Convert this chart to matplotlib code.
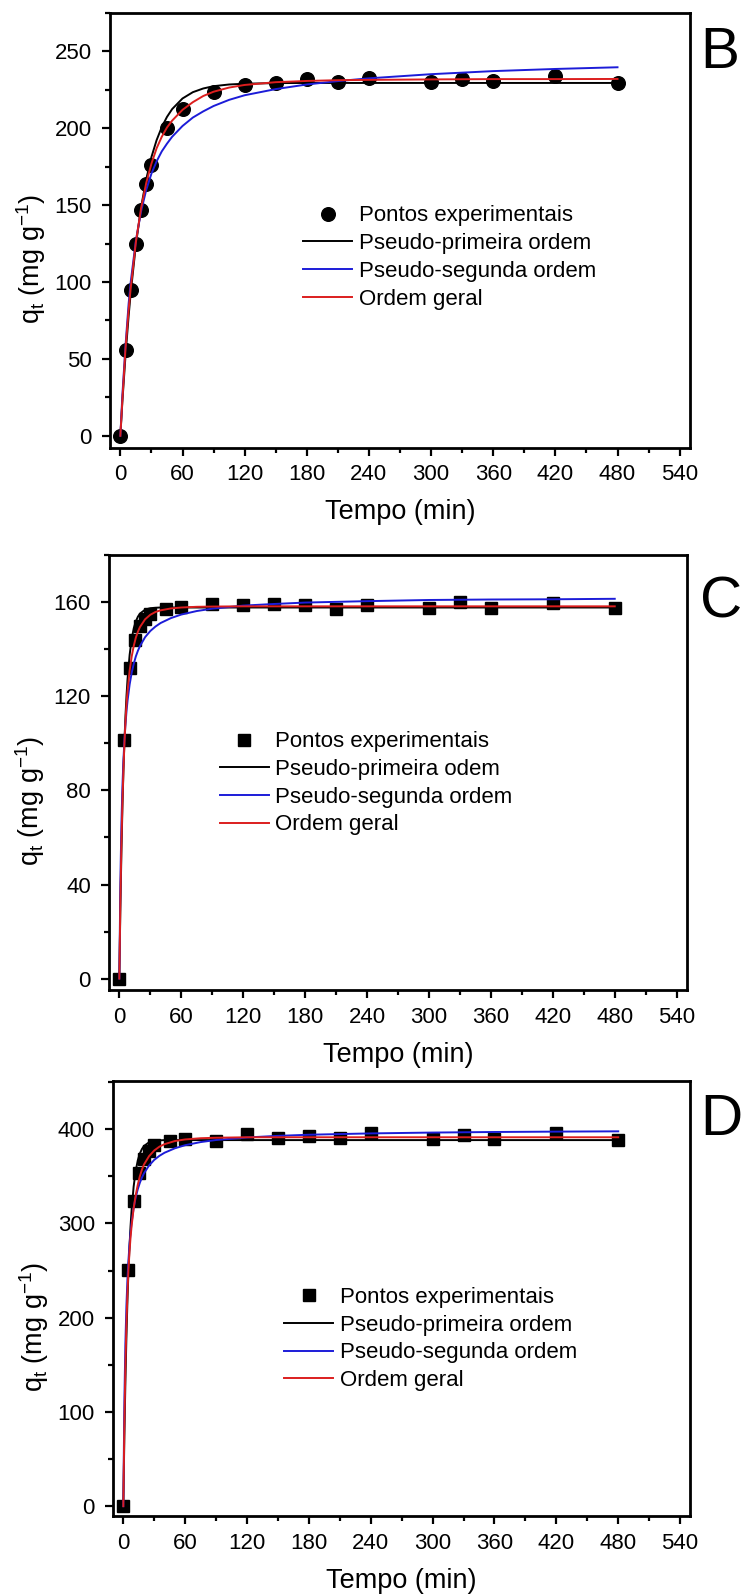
import matplotlib
matplotlib.use("Agg")
import matplotlib.pyplot as plt
from matplotlib.ticker import MultipleLocator

plt.rcParams["font.family"] = ["Liberation Sans", "DejaVu Sans"]
plt.rcParams["mathtext.default"] = "regular"

# ---------------- experimental points (time in min, q_t in mg/g) ----------------
t_exp = [0, 5, 10, 15, 20, 25, 30, 45, 60, 90, 120, 150, 180, 210, 240, 300, 330, 360, 420, 480]

qB_exp = [0, 56, 95, 125, 147, 163.5, 176, 200, 212.5, 223.5, 228, 229.2, 232.3, 229.8,
          232.9, 230.3, 232, 231, 234.2, 229.2]
qC_exp = [0, 101.5, 132, 144, 150, 153, 155, 157, 158, 159.3, 159, 159.3, 158.7, 157.1,
          159, 157.8, 160, 157.6, 159.6, 157.4]
qD_exp = [0, 250.5, 324, 353.4, 368.5, 377.4, 383, 388, 389.4, 388, 394.7, 390.5, 393,
          391, 396, 390, 393.5, 390, 396, 388.2]

# ---------------- fitted kinetic curves ----------------
tB_fit = [0, 2, 5, 8, 10, 15, 20, 25, 30, 35, 40, 45, 50, 60, 70, 80, 90, 105, 120,
          150, 180, 210, 240, 300, 360, 420, 480]
qB_pfo = [0, 22.8, 52.5, 78.1, 93, 124.3, 148.6, 166.9, 181.3, 192.3, 200.8, 207.4, 212.5,
          219.4, 223.5, 225.9, 227.4, 228.5, 229.0, 229.4, 229.5, 229.5, 229.5, 229.5,
          229.5, 229.5, 229.5]
qB_pso = [0, 27, 59, 86, 100, 127, 146, 160, 170.5, 178.5, 185, 190, 194.5, 201.5, 207,
          211, 214.5, 218.5, 221.5, 225.5, 228.5, 230.7, 232.5, 235.2, 237.2, 238.6, 239.7]
qB_go = [0, 24, 57, 82, 96, 126, 148, 164.5, 177, 187, 194.5, 200.5, 205, 212, 217, 221,
         223.8, 226.5, 228.2, 230, 230.8, 231.3, 231.5, 231.8, 232, 232, 232.1]

tCD_fit = [0, 1, 2, 3, 4, 5, 6, 7, 8, 10, 12, 14, 16, 18, 20, 25, 30, 35, 40, 50, 60, 75,
           90, 120, 150, 180, 240, 300, 360, 420, 480]
qC_pfo = [0, 29.4, 53.3, 72.7, 88.6, 101.5, 112, 120.5, 127.5, 137.7, 144.5, 149, 151.9,
          153.9, 155.2, 156.9, 157.5, 157.7, 157.8, 157.8, 157.8, 157.8, 157.8, 157.8,
          157.8, 157.8, 157.8, 157.8, 157.8, 157.8, 157.8]
qC_pso = [0, 40.8, 65.2, 81.5, 93.1, 101.7, 108.5, 113.9, 118.3, 125.1, 130.1, 133.9, 137,
          139.4, 141.4, 145.2, 147.8, 149.7, 151.2, 153.3, 154.8, 156.3, 157.3, 158.6,
          159.3, 159.9, 160.5, 161, 161.2, 161.3, 161.5]
qC_go = [0, 32, 57, 75, 89, 100.5, 109.5, 117, 122.5, 131, 137, 141.5, 145, 147.5, 149.5,
         152.8, 154.7, 155.9, 156.6, 157.4, 157.8, 158.1, 158.2, 158.3, 158.3, 158.3,
         158.3, 158.3, 158.3, 158.3, 158.3]

qD_pfo = [0, 72.3, 131.2, 179.1, 218, 249.9, 275.7, 296.7, 313.8, 339, 355.7, 366.8, 374.1,
          378.9, 382.2, 386.2, 387.7, 388.2, 388.5, 388.5, 388.5, 388.5, 388.5, 388.5,
          388.5, 388.5, 388.5, 388.5, 388.5, 388.5, 388.5]
qD_pso = [0, 109.5, 172, 212.3, 240.5, 261.2, 277.4, 290.1, 300.4, 316.2, 327.6, 336.3,
          343.1, 348.6, 353.2, 361.6, 367.5, 371.8, 375.1, 379.8, 383.1, 386.4, 388.6,
          391.3, 393, 394.2, 395.6, 396.5, 397.1, 397.5, 397.8]
qD_go = [0, 85, 148, 193, 226, 251, 270, 285, 297, 316, 330, 341, 350, 357, 362.5, 371.5,
         377.5, 381.5, 384.2, 387.5, 389.2, 390.5, 391, 391.5, 391.5, 391.5, 391.5, 391.5,
         391.5, 391.5, 391.5]

labels_B = ["Pontos experimentais", "Pseudo-primeira ordem", "Pseudo-segunda ordem", "Ordem geral"]
labels_C = ["Pontos experimentais", "Pseudo-primeira odem", "Pseudo-segunda ordem", "Ordem geral"]
labels_D = ["Pontos experimentais", "Pseudo-primeira ordem", "Pseudo-segunda ordem", "Ordem geral"]

x_ticks_step, x_minor_step = 60, 30

# ---------------- figure ----------------
W, H = 748, 1596
fig = plt.figure(figsize=(W / 100, H / 100), dpi=100)

BLUE = "#1c1cd8"
RED = "#dc1e1e"


def px_rect(left, top, right, bottom):
    return [left / W, 1 - bottom / H, (right - left) / W, (bottom - top) / H]


panels = [
    dict(rect=(110, 13, 690, 447.6), t_fit=tB_fit, q_exp=qB_exp, pfo=qB_pfo, pso=qB_pso,
         go=qB_go, marker="o", ms=9.8, ylim=(-7.7, 275), ystep=50, yminor=25,
         labels=labels_B, leg=(303, 205.5), letter="B", let_y=68),
    dict(rect=(109, 555.3, 687, 990.1), t_fit=tCD_fit, q_exp=qC_exp, pfo=qC_pfo, pso=qC_pso,
         go=qC_go, marker="s", ms=8, ylim=(-4.9, 180), ystep=40, yminor=20,
         labels=labels_C, leg=(219.5, 731.5), letter="C", let_y=617),
    dict(rect=(113, 1081.2, 690.4, 1516), t_fit=tCD_fit, q_exp=qD_exp, pfo=qD_pfo, pso=qD_pso,
         go=qD_go, marker="s", ms=8, ylim=(-10.4, 451), ystep=100, yminor=50,
         labels=labels_D, leg=(284, 1287), letter="D", let_y=1135),
]

for p in panels:
    ax = fig.add_axes(px_rect(*p["rect"]))
    h_pts, = ax.plot(t_exp, p["q_exp"], ls="none", marker=p["marker"], ms=p["ms"],
                     color="black", zorder=2)
    h_pfo, = ax.plot(p["t_fit"], p["pfo"], color="black", lw=1.4, zorder=3)
    h_pso, = ax.plot(p["t_fit"], p["pso"], color=BLUE, lw=1.4, zorder=4)
    h_go, = ax.plot(p["t_fit"], p["go"], color=RED, lw=1.4, zorder=5)

    ax.set_xlim(-10, 550)
    ax.set_ylim(*p["ylim"])
    ax.xaxis.set_major_locator(MultipleLocator(x_ticks_step))
    ax.xaxis.set_minor_locator(MultipleLocator(x_minor_step))
    ax.yaxis.set_major_locator(MultipleLocator(p["ystep"]))
    ax.yaxis.set_minor_locator(MultipleLocator(p["yminor"]))
    ax.tick_params(which="both", direction="out", top=False, right=False, width=1.6,
                   labelsize=16)
    ax.tick_params(which="major", length=6)
    ax.tick_params(which="minor", length=3.6)
    ax.tick_params(axis="x", which="major", pad=6)
    ax.tick_params(axis="y", which="major", pad=7)
    for sp in ax.spines.values():
        sp.set_linewidth(2)

    ax.set_xlabel("Tempo (min)", fontsize=19.5, labelpad=10)
    ax.set_ylabel(r"q$_t$ (mg g$^{-1}$)", fontsize=19.5)
    ax.yaxis.set_label_coords(-0.107, 0.435)

    lx, ly = p["leg"]
    ax.legend([h_pts, h_pfo, h_pso, h_go], p["labels"], loc="upper left",
              bbox_to_anchor=(lx / W, 1 - ly / H), bbox_transform=fig.transFigure,
              frameon=False, fontsize=16, handlelength=2.22, handletextpad=0.29,
              labelspacing=0.30, borderpad=0, borderaxespad=0, numpoints=1)

    fig.text(700 / W, 1 - p["let_y"] / H, p["letter"], fontsize=42, ha="left",
             va="baseline")

fig.savefig("out.png", dpi=100, facecolor="white")
